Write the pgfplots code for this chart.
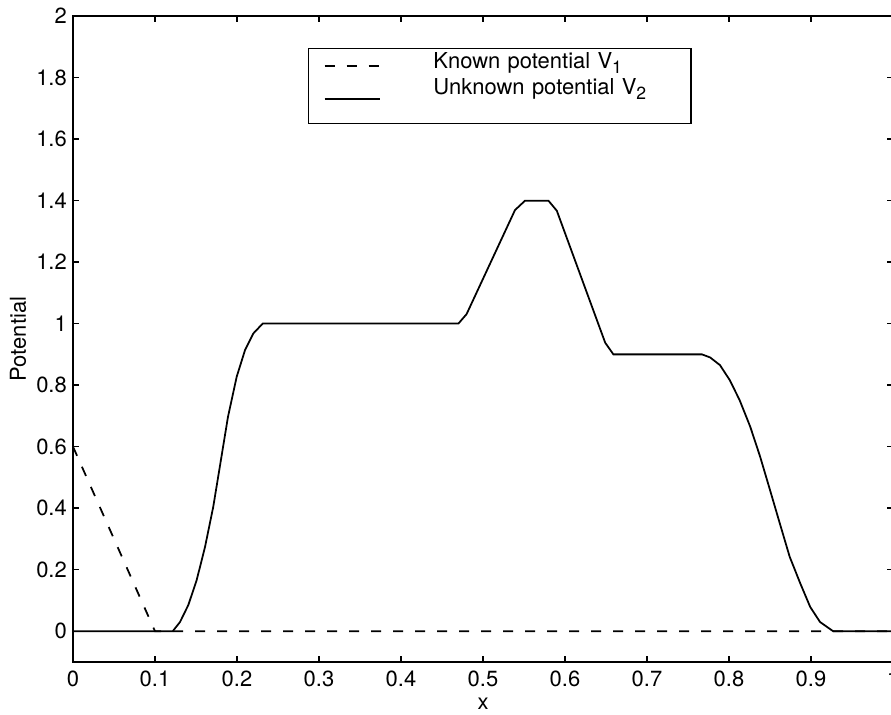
\documentclass[border=0pt]{standalone}
\usepackage{fontspec}
\setmainfont{TeX Gyre Heros}
\usepackage{pgfplots}
\pgfplotsset{compat=1.18}
\newcommand{\sub}[1]{\raisebox{-0.45ex}{\fontsize{10}{11}\selectfont #1}}

\begin{document}
\begin{tikzpicture}
\begin{axis}[
    scale only axis,
    width=16.4cm, height=12.92cm,
    xmin=0, xmax=1, ymin=-0.1, ymax=2,
    xtick={0,0.1,0.2,0.3,0.4,0.5,0.6,0.7,0.8,0.9,1},
    ytick={0,0.2,0.4,0.6,0.8,1,1.2,1.4,1.6,1.8,2},
    tick align=inside,
    major tick length=0.12cm,
    axis line style={line width=0.9pt},
    every tick/.style={black, line width=0.8pt},
    ticklabel style={font=\fontsize{12.5}{14}\selectfont},
    /pgf/number format/assume math mode=true,
    xticklabel style={yshift=-0.06cm},
    xlabel={x},
    ylabel={Potential},
    label style={font=\fontsize{12.5}{14}\selectfont},
    xlabel style={at={(axis description cs:0.5,-0.064)}, anchor=center},
    ylabel style={at={(axis description cs:-0.067,0.5)}, anchor=center},
    legend image code/.code={\draw[#1] (0cm,0cm) -- (1.1cm,0cm);},
    legend style={at={(rel axis cs:0.2866,0.9505)}, anchor=north west,
        draw=black, line width=0.8pt,
        inner xsep=0.3cm, inner ysep=0.08cm,
        row sep=0pt, column sep=1.06cm,
        nodes={inner sep=0pt, text height=0.32cm, text depth=0.2cm,
               text width=4.85cm, align=left,
               font=\fontsize{12.5}{14}\selectfont}},
    legend cell align=left,
]
% known potential V1
\addplot[black, line width=1pt, dash pattern=on 0.2cm off 0.24cm]
  coordinates {(0,0.6) (0.1,0) (1,0)};
\addlegendentry{Known potential V\sub{1}}

% unknown potential V2
\addplot[black, line width=1pt] coordinates {
  (0,0) (0.1216,0) (0.1305,0.030) (0.1406,0.085) (0.1508,0.166)
  (0.161,0.274) (0.171,0.404) (0.179,0.534) (0.189,0.697)
  (0.1996,0.827) (0.2098,0.914) (0.2199,0.968) (0.2313,1.0)
  (0.470,1.0) (0.480,1.031) (0.539,1.369) (0.551,1.399)
  (0.580,1.399) (0.590,1.367) (0.649,0.938) (0.659,0.9)
  (0.767,0.9) (0.777,0.890) (0.789,0.865) (0.801,0.816)
  (0.813,0.751) (0.826,0.664) (0.838,0.567) (0.850,0.459)
  (0.862,0.350) (0.874,0.242) (0.887,0.155) (0.899,0.079)
  (0.911,0.030) (0.927,0) (1,0)
};
\addlegendentry[text depth=0.5cm]{Unknown potential V\sub{2}}
\end{axis}
\pgfresetboundingbox
\path[use as bounding box] (-1.46,-1.06) rectangle (16.36,13.24);
\end{tikzpicture}
\end{document}
